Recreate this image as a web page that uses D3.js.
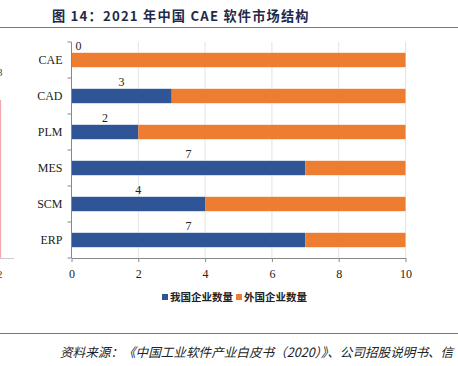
<!DOCTYPE html>
<html><head><meta charset="utf-8">
<script src="https://cdn.jsdelivr.net/npm/d3@7"></script>
<style>body{margin:0;background:#fff}svg{display:block}</style>
</head><body>
<script>
const categories = ["CAE","CAD","PLM","MES","SCM","ERP"];
const domestic = [0,3,2,7,4,7];
const foreign = [10,7,8,3,6,3];
const xTicks = [0,2,4,6,8,10];
const seriesNames = ["我国企业数量","外国企业数量"];
const colors = ["#2f5597","#ed7d31"];

const W=458,H=366;
const svg=d3.select("body").append("svg").attr("width",W).attr("height",H);

// title
svg.append("text").attr("x",52).attr("y",21)
  .attr("font-family","'Noto Sans CJK SC',sans-serif").attr("font-weight","bold")
  .attr("font-size",13.2).attr("fill","#1f2a4a").attr("letter-spacing",1.2)
  .text("图 14：2021 年中国 CAE 软件市场结构");
svg.append("line").attr("x1",0).attr("x2",W).attr("y1",27.5).attr("y2",27.5)
  .attr("stroke","#777").attr("stroke-width",1.2);
svg.append("line").attr("x1",0).attr("x2",W).attr("y1",333.5).attr("y2",333.5)
  .attr("stroke","#777").attr("stroke-width",1.2);

// remnants at left edge
svg.append("line").attr("x1",0.5).attr("x2",0.5).attr("y1",100).attr("y2",258)
  .attr("stroke","#f4a6ad").attr("stroke-width",1.2);
svg.append("line").attr("x1",0).attr("x2",14).attr("y1",258.5).attr("y2",258.5)
  .attr("stroke","#ccc");
svg.append("text").attr("x",-3).attr("y",278).attr("font-family","'Liberation Serif',serif")
  .attr("font-size",11).attr("fill","#444").text("2");
svg.append("text").attr("x",-3).attr("y",76).attr("font-family","'Liberation Serif',serif")
  .attr("font-size",11).attr("fill","#444").text("8");

const x=d3.scaleLinear().domain([0,10]).range([71.5,405.5]);
const y=d3.scaleBand().domain(categories).range([42,258]).paddingInner(0.6).paddingOuter(0.3);

// gridlines
svg.append("g").selectAll("line").data(xTicks.slice(1)).join("line")
  .attr("x1",d=>x(d)).attr("x2",d=>x(d)).attr("y1",42).attr("y2",258)
  .attr("stroke","#e4e4e4").attr("stroke-width",1);

const data=categories.map((c,i)=>({c,d:domestic[i],f:foreign[i]}));
const g=svg.append("g");
g.selectAll("rect.d").data(data).join("rect").attr("class","d")
  .attr("x",x(0)).attr("y",d=>y(d.c)).attr("width",d=>x(d.d)-x(0)).attr("height",y.bandwidth())
  .attr("fill",colors[0]);
g.selectAll("rect.f").data(data).join("rect").attr("class","f")
  .attr("x",d=>x(d.d)).attr("y",d=>y(d.c)).attr("width",d=>x(d.d+d.f)-x(d.d)).attr("height",y.bandwidth())
  .attr("fill",colors[1]);

// value labels
g.selectAll("text.v").data(data).join("text").attr("class","v")
  .attr("x",d=>d.d===0?x(0)+7:x(d.d/2)).attr("y",d=>y(d.c)-3)
  .attr("text-anchor","middle").attr("font-family","'Liberation Serif',serif")
  .attr("font-size",12).attr("fill","#222").text(d=>d.d);

// axes
const xa=svg.append("g").attr("transform","translate(0,258)")
  .call(d3.axisBottom(x).tickValues(xTicks).tickSize(4).tickSizeOuter(0).tickFormat(d3.format("d")));
xa.selectAll("text").attr("font-family","'Liberation Serif',serif").attr("font-size",12).attr("fill","#222").attr("dy","1.05em");
xa.select(".domain").attr("stroke","#888");
xa.selectAll(".tick line").attr("stroke","#888");

const yTickScale=d3.scaleLinear().domain([0,6]).range([42,258]);
const ya=svg.append("g").attr("transform","translate(71.5,0)");
ya.append("line").attr("y1",42).attr("y2",258).attr("stroke","#888");
ya.selectAll("line.t").data(d3.range(7)).join("line").attr("class","t")
  .attr("x1",-4).attr("x2",0).attr("y1",d=>yTickScale(d)).attr("y2",d=>yTickScale(d)).attr("stroke","#888");
ya.selectAll("text").data(categories).join("text")
  .attr("x",-9).attr("y",d=>y(d)+y.bandwidth()/2).attr("dy","0.35em")
  .attr("text-anchor","end").attr("font-family","'Liberation Serif',serif")
  .attr("font-size",12).attr("fill","#222").text(d=>d);

// legend
const leg=svg.append("g");
const lx=[162,236];
seriesNames.forEach((n,i)=>{
  leg.append("rect").attr("x",lx[i]).attr("y",294).attr("width",6).attr("height",6).attr("fill",colors[i]);
  leg.append("text").attr("x",lx[i]+8).attr("y",301).attr("font-family","'Noto Sans CJK SC',sans-serif")
    .attr("font-weight","bold").attr("font-size",10.5).attr("fill","#222").text(n);
});

// source
svg.append("text").attr("x",60).attr("y",357).attr("font-family","'Noto Sans CJK SC',serif")
  .attr("font-style","italic").attr("font-size",12.6).attr("fill","#222")
  .text("资料来源：《中国工业软件产业白皮书（2020）》、公司招股说明书、信");
</script>
</body></html>
